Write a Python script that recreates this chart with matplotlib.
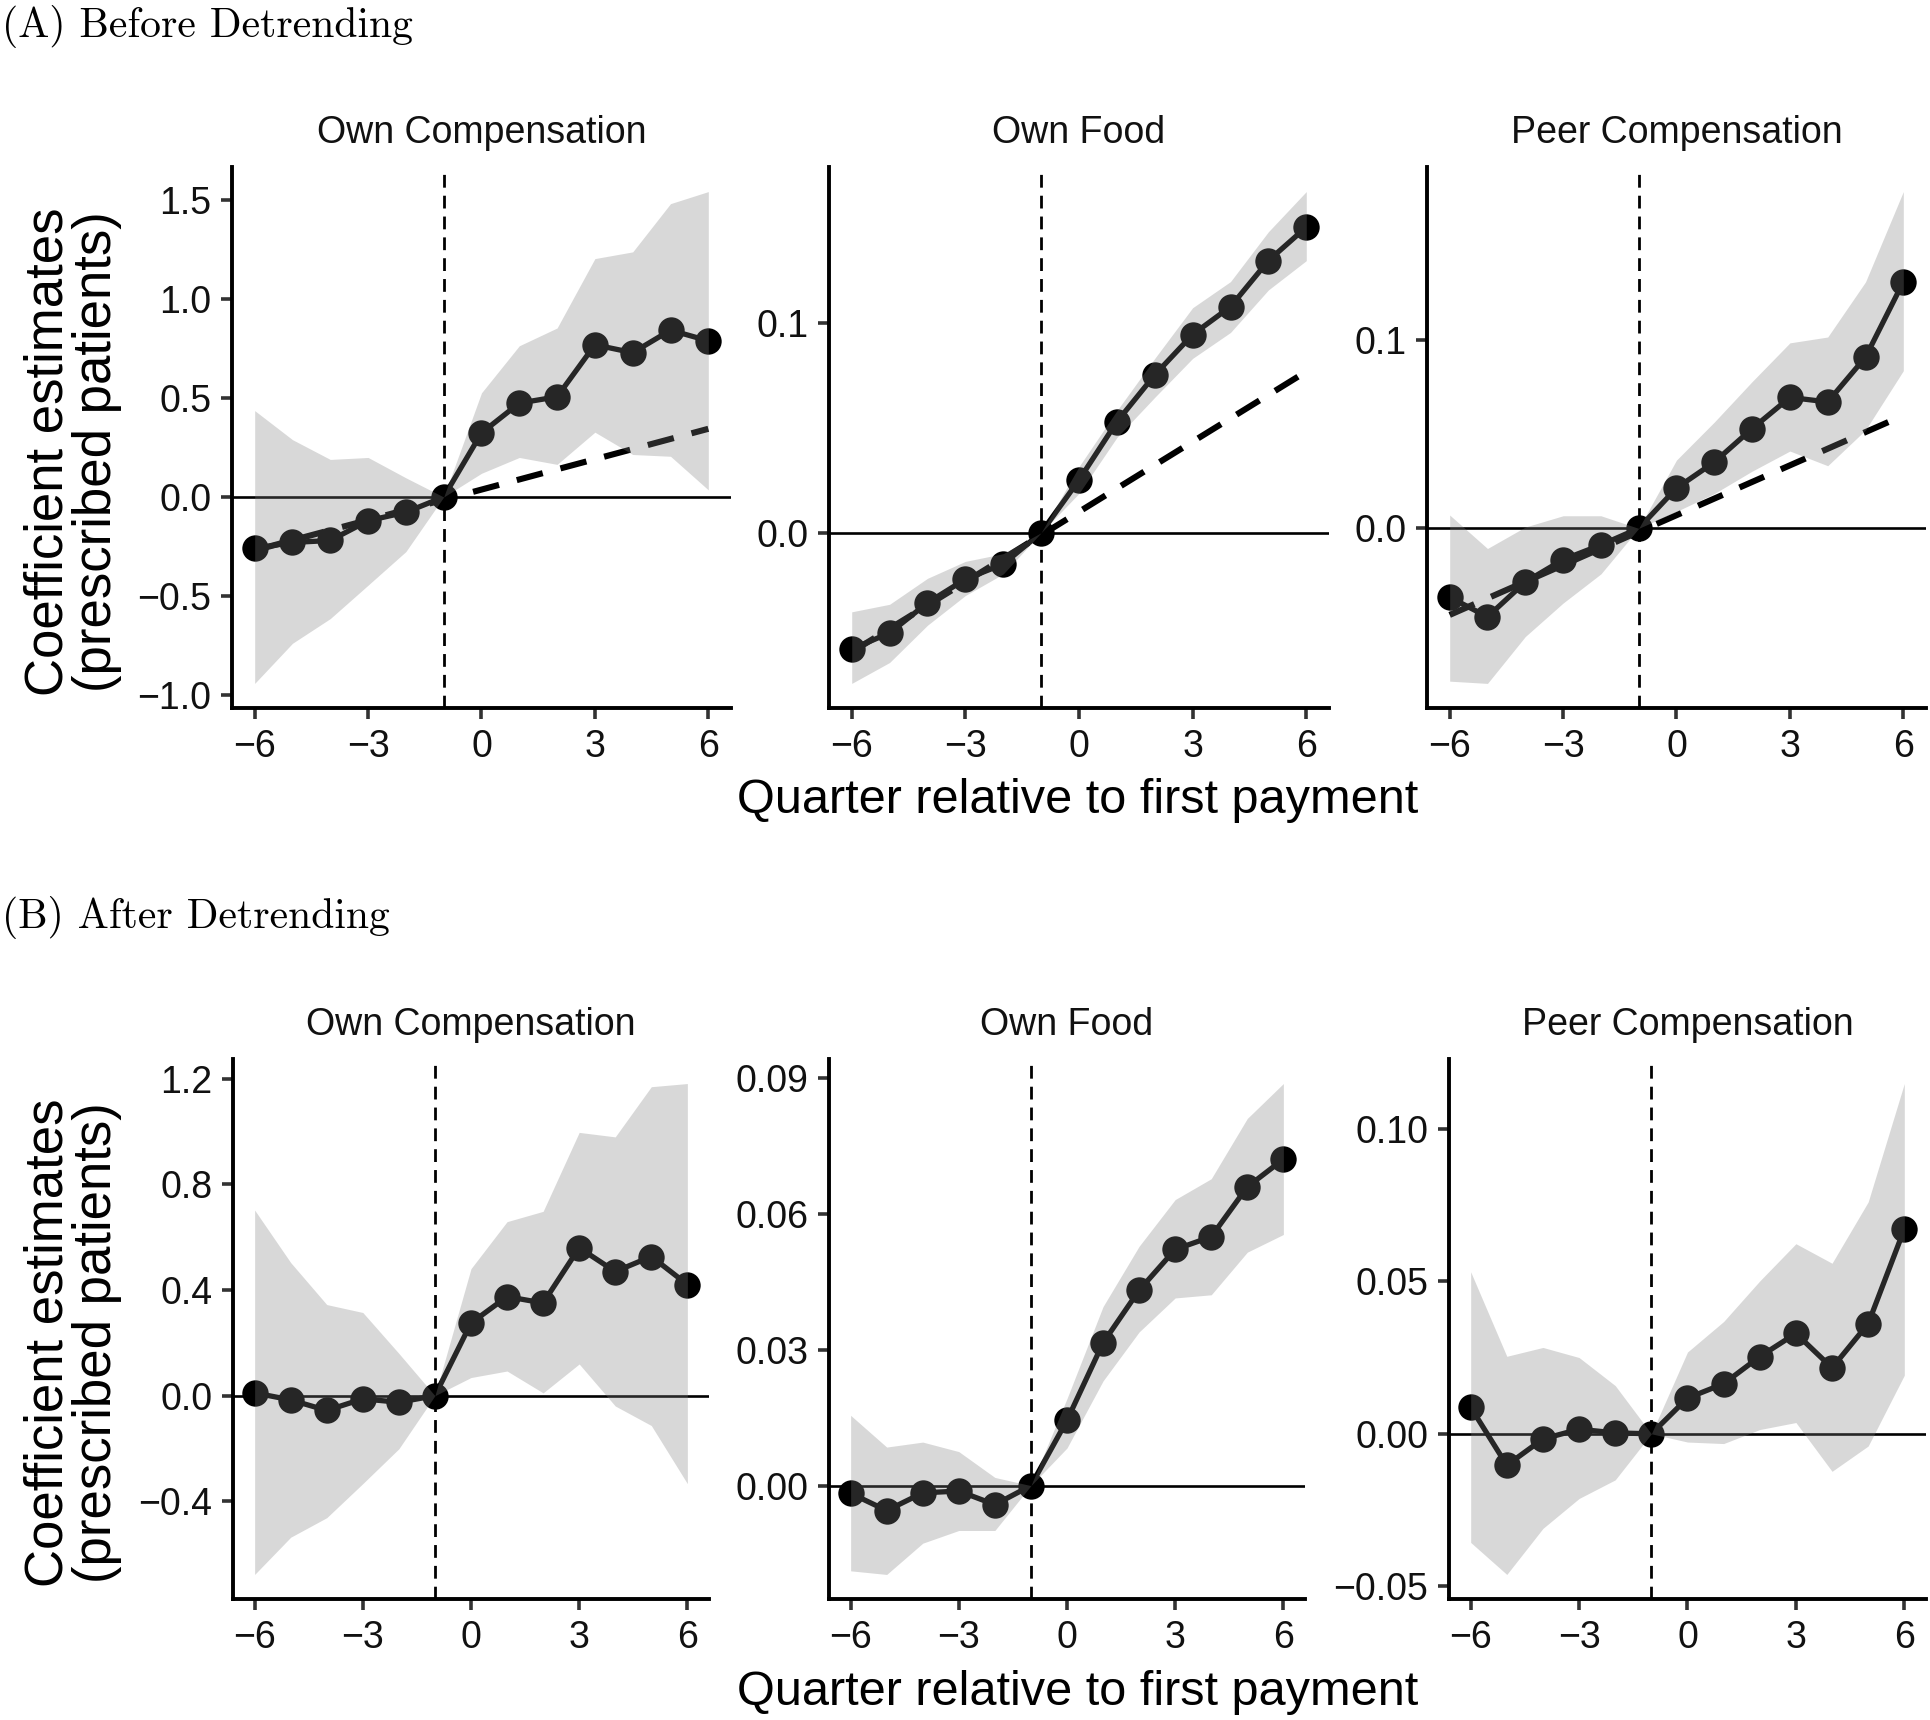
import matplotlib
matplotlib.use("Agg")
import matplotlib.pyplot as plt
from matplotlib.ticker import FixedLocator, FuncFormatter

# ---------------- data ----------------
quarters = [-6, -5, -4, -3, -2, -1, 0, 1, 2, 3, 4, 5, 6]
x_ticks = [-6, -3, 0, 3, 6]
trend_x = [-6, 6]

# (A) Before detrending
a_comp_est = [-0.26, -0.23, -0.22, -0.12, -0.077, 0.0, 0.324, 0.475, 0.507, 0.77, 0.73, 0.844, 0.79]
a_comp_hi = [0.437, 0.29, 0.19, 0.20, 0.097, 0.0, 0.527, 0.765, 0.855, 1.206, 1.24, 1.484, 1.545]
a_comp_lo = [-0.943, -0.74, -0.615, -0.446, -0.276, 0.0, 0.12, 0.20, 0.165, 0.328, 0.215, 0.206, 0.036]
a_comp_trend = [-0.27, 0.345]
a_comp_yticks = [-1.0, -0.5, 0.0, 0.5, 1.0, 1.5]

a_food_est = [-0.0556, -0.0479, -0.0335, -0.0222, -0.015, 0.0, 0.0252, 0.053, 0.0754, 0.0947, 0.108, 0.130, 0.146]
a_food_hi = [-0.0378, -0.0342, -0.0218, -0.0137, -0.010, 0.0, 0.0316, 0.0583, 0.0833, 0.1075, 0.120, 0.1438, 0.163]
a_food_lo = [-0.072, -0.062, -0.0442, -0.030, -0.0197, 0.0, 0.0188, 0.0455, 0.0647, 0.0833, 0.0957, 0.116, 0.130]
a_food_trend = [-0.057, 0.077]
a_food_yticks = [0.0, 0.1]

a_peer_est = [-0.0366, -0.0470, -0.0285, -0.0166, -0.0088, 0.0, 0.0214, 0.0352, 0.053, 0.0696, 0.0672, 0.091, 0.131]
a_peer_hi = [0.0071, -0.0107, 0.0007, 0.0067, 0.0067, 0.0, 0.0363, 0.0565, 0.078, 0.0986, 0.1017, 0.131, 0.179]
a_peer_lo = [-0.0812, -0.0824, -0.0575, -0.0397, -0.0242, 0.0, 0.009, 0.0185, 0.0304, 0.0411, 0.0333, 0.0523, 0.0838]
a_peer_trend = [-0.046, 0.060]
a_peer_yticks = [0.0, 0.1]

# (B) After detrending
b_comp_est = [0.0106, -0.016, -0.056, -0.012, -0.025, 0.0, 0.275, 0.375, 0.351, 0.56, 0.47, 0.527, 0.421]
b_comp_hi = [0.703, 0.504, 0.345, 0.315, 0.160, 0.0, 0.481, 0.659, 0.698, 0.997, 0.98, 1.17, 1.182]
b_comp_lo = [-0.677, -0.536, -0.462, -0.333, -0.201, 0.0, 0.0687, 0.0934, 0.0106, 0.12, -0.039, -0.113, -0.333]
b_comp_yticks = [-0.4, 0.0, 0.4, 0.8, 1.2]

b_food_est = [-0.0017, -0.0055, -0.0016, -0.0012, -0.0042, 0.0, 0.0144, 0.0315, 0.0431, 0.0521, 0.0549, 0.0659, 0.072]
b_food_hi = [0.0155, 0.0085, 0.0096, 0.0075, 0.0018, 0.0, 0.0192, 0.0395, 0.0528, 0.0631, 0.0677, 0.081, 0.0887]
b_food_lo = [-0.0188, -0.0196, -0.0127, -0.0099, -0.0099, 0.0, 0.0083, 0.0231, 0.0339, 0.0414, 0.0421, 0.0515, 0.0554]
b_food_yticks = [0.0, 0.03, 0.06, 0.09]

b_peer_est = [0.0087, -0.0103, -0.0017, 0.0015, 0.0003, 0.0, 0.0117, 0.0164, 0.0253, 0.0329, 0.0216, 0.0361, 0.0671]
b_peer_hi = [0.0531, 0.0254, 0.0283, 0.025, 0.0158, 0.0, 0.0268, 0.0368, 0.0501, 0.0623, 0.0559, 0.076, 0.1148]
b_peer_lo = [-0.0356, -0.0461, -0.031, -0.0212, -0.0151, 0.0, -0.0027, -0.0032, 0.0014, 0.0037, -0.0123, -0.004, 0.0192]
b_peer_yticks = [-0.05, 0.0, 0.05, 0.10]

panel_titles = ["Own Compensation", "Own Food", "Peer Compensation"]
section_titles = ["(A) Before Detrending", "(B) After Detrending"]
x_label = "Quarter relative to first payment"
y_label = "Coefficient estimates\n(prescribed patients)"

# ---------------- style ----------------
W, H = 1931, 1720
SANS = ["Liberation Sans", "DejaVu Sans"]
plt.rcParams["font.family"] = SANS

fig = plt.figure(figsize=(W / 100, H / 100), dpi=100)


def rect(left, right, top, bottom):
    return [left / W, 1 - bottom / H, (right - left) / W, (bottom - top) / H]


def fmt(decimals):
    def f(v, pos):
        s = f"{v:.{decimals}f}"
        if float(s) == 0:
            s = s.lstrip("-")
        return s.replace("-", "\u2212")
    return FuncFormatter(f)


def panel(box, est, lo, hi, yticks, decimals, title, trend=None):
    left, right, top, bottom = box
    ax = fig.add_axes(rect(left, right, top, bottom))
    vals = list(est) + list(lo) + list(hi) + [0.0] + (list(trend) if trend else [])
    vmin, vmax = min(vals), max(vals)
    pad = 0.05 * (vmax - vmin)
    ax.set_ylim(vmin - pad, vmax + pad)
    ax.set_xlim(-6.6, 6.6)

    ax.axhline(0, color="black", lw=1.9, zorder=1)
    ax.axvline(-1, color="black", lw=2.0, linestyle=(0, (4.6, 2.9)), zorder=1.5)
    if trend:
        ax.plot(trend_x, trend, color="black", lw=4.4,
                linestyle=(0, (4.4, 3.0)), zorder=2, solid_capstyle="butt")
    ax.plot(quarters, est, color="black", lw=3.8, zorder=3)
    ax.plot(quarters, est, "o", color="black", ms=19, mew=0, zorder=4, clip_on=False)
    ax.fill_between(quarters, lo, hi, color="#7f7f7f", alpha=0.3, lw=0, zorder=5)

    for s in ["top", "right"]:
        ax.spines[s].set_visible(False)
    for s in ["left", "bottom"]:
        ax.spines[s].set_linewidth(2.8)
        ax.spines[s].set_color("black")
        ax.spines[s].set_zorder(6)
    ax.xaxis.set_major_locator(FixedLocator(x_ticks))
    ax.xaxis.set_major_formatter(fmt(0))
    ax.yaxis.set_major_locator(FixedLocator(yticks))
    ax.yaxis.set_major_formatter(fmt(decimals))
    ax.tick_params(axis="both", length=8, width=2.6, color="#333333",
                   labelsize=27, labelcolor="#111111", pad=7)
    ax.set_facecolor("none")
    cx = (left + right) / 2
    fig.text(cx / W, 1 - (top - 24) / H, title, ha="center", va="baseline",
             fontsize=27, color="#111111")
    return ax


# Row A
rowA = [(232, 731, 167, 708), (829, 1329, 167, 708), (1427, 1926, 167, 708)]
panel(rowA[0], a_comp_est, a_comp_lo, a_comp_hi, a_comp_yticks, 1, panel_titles[0], a_comp_trend)
panel(rowA[1], a_food_est, a_food_lo, a_food_hi, a_food_yticks, 1, panel_titles[1], a_food_trend)
panel(rowA[2], a_peer_est, a_peer_lo, a_peer_hi, a_peer_yticks, 1, panel_titles[2], a_peer_trend)

# Row B
rowB = [(233, 709, 1059, 1599), (829, 1305, 1059, 1599), (1449, 1926, 1059, 1599)]
panel(rowB[0], b_comp_est, b_comp_lo, b_comp_hi, b_comp_yticks, 1, panel_titles[0])
panel(rowB[1], b_food_est, b_food_lo, b_food_hi, b_food_yticks, 2, panel_titles[1])
panel(rowB[2], b_peer_est, b_peer_lo, b_peer_hi, b_peer_yticks, 2, panel_titles[2])

# Section titles (LaTeX-like serif)
fig.text(2 / W, 1 - 37 / H, section_titles[0], ha="left", va="baseline",
         fontsize=30, family=["cmr10", "DejaVu Serif"])
fig.text(2 / W, 1 - 928 / H, section_titles[1], ha="left", va="baseline",
         fontsize=30, family=["cmr10", "DejaVu Serif"])

# Axis titles
for top, bottom, xl_base in [(167, 708, 813), (1059, 1599, 1705)]:
    fig.text(73 / W, 1 - ((top + bottom) / 2 + 14) / H, y_label, rotation=90,
             ha="center", va="center", multialignment="center",
             fontsize=38, linespacing=0.95)
    fig.text(1078 / W, 1 - xl_base / H, x_label, ha="center", va="baseline",
             fontsize=35)

fig.savefig("out.png", dpi=100, facecolor="white")
